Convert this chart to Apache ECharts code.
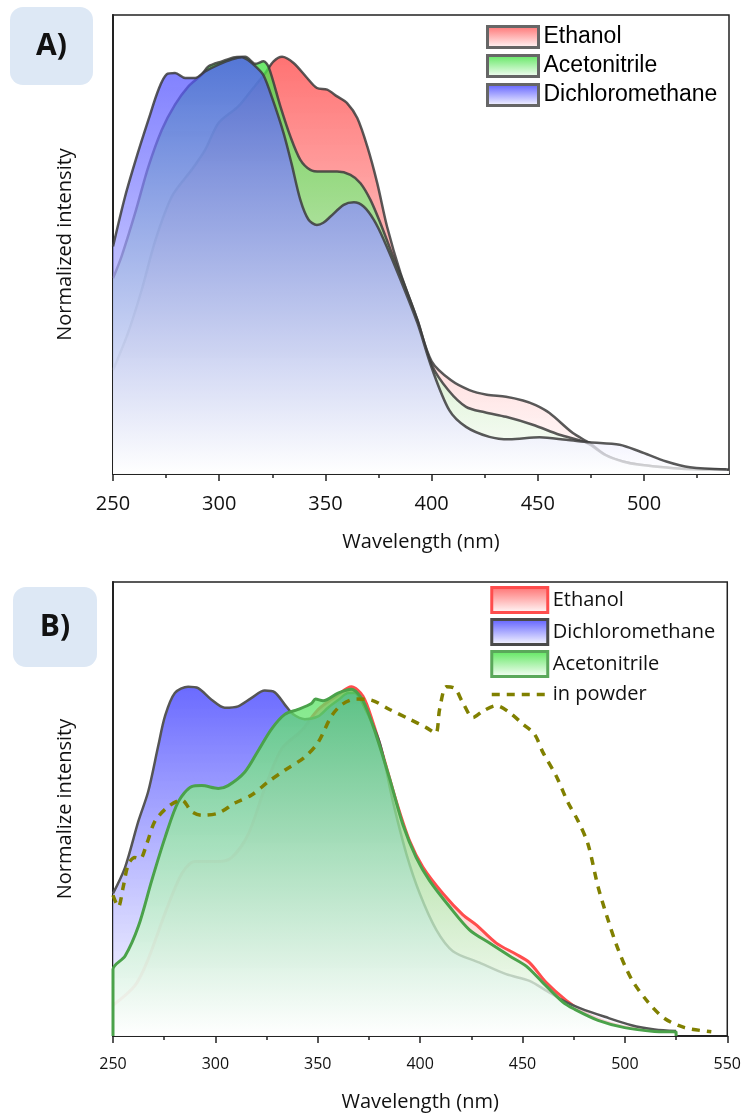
<!DOCTYPE html>
<html>
<head>
<meta charset="utf-8">
<script src="https://cdn.jsdelivr.net/npm/echarts@6/dist/echarts.min.js"></script>
<style>
  body { margin: 0; background: #fff; }
  #spec-a { width: 744px; height: 560px; }
  #spec-b { width: 744px; height: 557px; }
</style>
</head>
<body>
<div id="spec-a"></div>
<div id="spec-b"></div>
<script>
// ---- panel A : [wavelength nm, normalized intensity] ----
var aEthanol = [[250,0.249],[257,0.337],[263.5,0.441],[270,0.561],[277.7,0.665],[287,0.729],[293.4,0.777],[299.7,0.841],
  [309,0.881],[315.4,0.921],[321.7,0.961],[325.6,0.989],[329.6,1.0],[335,0.985],[341.4,0.949],[346,0.925],[350.8,0.921],
  [355.5,0.905],[360.2,0.889],[365,0.853],[369.7,0.785],[374.4,0.697],[379,0.593],[385.4,0.481],[393.3,0.369],[400,0.27],
  [409,0.225],[417.8,0.201],[426,0.19],[435,0.185],[443,0.176],[449,0.165],[455.5,0.146],[466.5,0.098],[474.4,0.074],
  [482,0.045],[490,0.03],[498,0.022],[513.7,0.014],[525,0.011],[540,0.01]];
var aAcetonitrile = [[250,0.469],[254,0.521],[260.4,0.625],[266.7,0.737],[273,0.825],[279.2,0.885],[285.5,0.929],[291.8,0.957],
  [295,0.977],[301.3,0.989],[307.5,0.999],[312.3,1.0],[317,0.983],[320.9,0.989],[323.3,0.975],[328.8,0.881],[333.5,0.809],
  [338.2,0.753],[342.9,0.729],[347.6,0.725],[355.5,0.725],[361.8,0.717],[366.5,0.697],[371.2,0.657],[375.9,0.601],[380.7,0.537],
  [386.9,0.457],[393.3,0.369],[400,0.262],[408,0.2],[416.2,0.161],[425,0.148],[435,0.137],[447.6,0.118],[460.2,0.094],
  [472.8,0.075],[482,0.045],[490,0.03],[498,0.022],[514,0.014],[525,0.011],[540,0.01]];
var aDichloromethane = [[250,0.545],[255.7,0.665],[261.2,0.761],[266.7,0.849],[271.4,0.921],[275.3,0.958],[279.2,0.961],[284,0.949],
  [288.7,0.949],[293.4,0.965],[299.7,0.981],[306,0.994],[310.7,0.999],[313.8,0.991],[317.5,0.975],[320.9,0.955],[325,0.9],
  [330.3,0.817],[334,0.745],[338.2,0.657],[342,0.61],[346,0.597],[349,0.602],[352.4,0.617],[358.6,0.645],[363.4,0.651],
  [368,0.641],[372.8,0.609],[377.5,0.561],[385.4,0.465],[393.3,0.362],[400,0.255],[408.3,0.153],[416.2,0.113],[427.2,0.089],
  [436.6,0.083],[450.8,0.088],[463.4,0.082],[474.4,0.076],[488.5,0.07],[498,0.054],[510.5,0.03],[521.6,0.016],[538.8,0.011]];
var aTicks = [250, 300, 350, 400, 450, 500];
var aMinorTicks = [275, 325, 375, 425, 475, 525];

// ---- panel B ----
var bEthanol = [[250,0.088],[260.7,0.144],[267.2,0.22],[275.4,0.351],[283.5,0.464],[290,0.5],[301.4,0.5],[307.9,0.511],
  [316,0.577],[324.1,0.709],[332.3,0.822],[342,0.874],[350.2,0.935],[359.9,0.977],[366.4,1.0],[372.1,0.973],[377,0.897],
  [381.9,0.803],[388.4,0.671],[394.9,0.558],[401.4,0.483],[411.1,0.408],[420.9,0.347],[427.4,0.318],[437.2,0.266],
  [446.9,0.234],[453.4,0.21],[461.6,0.153],[471.3,0.102],[480,0.068],[490,0.042],[500,0.026],[512,0.016],[525,0.011]];
var bDichloromethane = [[250,0.408],[255.9,0.483],[262.4,0.615],[267.2,0.7],[272.1,0.831],[275.4,0.916],[280.2,0.982],
  [286.7,1.0],[291.6,0.996],[298.1,0.963],[304.6,0.94],[311.1,0.944],[317.7,0.968],[324.1,0.989],[329,0.984],[333.9,0.949],
  [338,0.921],[343.7,0.907],[350.2,0.915],[355,0.94],[360,0.962],[365,0.982],[368,0.982],[372,0.95],[380.2,0.841],
  [386.7,0.671],[393.3,0.521],[399.8,0.408],[407.9,0.304],[416,0.243],[429,0.21],[442,0.177],[453.4,0.158],[461.6,0.13],
  [471.3,0.097],[478,0.08],[490.2,0.055],[503.2,0.031],[514.5,0.019],[525,0.014]];
var bAcetonitrile = [[250,0],[250,0.191],[255.9,0.229],[262.4,0.314],[268.9,0.445],[275.4,0.568],[281.9,0.671],[288.4,0.714],
  [293.3,0.717],[301.4,0.709],[306.2,0.717],[314.4,0.756],[320.9,0.817],[327.4,0.879],[333.9,0.921],[340.4,0.935],
  [346.9,0.952],[348.9,0.965],[352.6,0.96],[359.9,0.982],[366.4,0.993],[372.1,0.96],[378.6,0.86],[385.1,0.737],
  [391.6,0.605],[398.1,0.511],[404.6,0.445],[414.4,0.37],[424.1,0.304],[433.9,0.266],[443.7,0.229],[451.8,0.2],
  [459.9,0.153],[469.7,0.097],[475,0.078],[486.9,0.045],[499.9,0.024],[514.5,0.013],[525,0.011],[525,0]];
var bPowder = [[250,0.403],[252.6,0.37],[255,0.427],[257.5,0.492],[260.7,0.511],[263.2,0.507],[266.4,0.549],[270.5,0.615],
  [277,0.657],[283.5,0.676],[288.4,0.643],[293.3,0.632],[301.4,0.638],[309.5,0.667],[317.7,0.69],[325.8,0.728],
  [333.9,0.761],[343.7,0.799],[350.2,0.841],[356.7,0.916],[362,0.95],[368.9,0.965],[375.4,0.963],[385.1,0.935],
  [394.9,0.907],[403,0.883],[407.6,0.867],[409.5,0.935],[412.8,1.0],[416.8,0.996],[420.9,0.954],[425.8,0.912],
  [430.6,0.93],[437.2,0.946],[443.7,0.926],[450.2,0.893],[455.9,0.864],[459.9,0.813],[466.4,0.745],[472.1,0.67],
  [477.2,0.615],[482,0.549],[486.9,0.427],[491.8,0.332],[496.7,0.248],[503.2,0.163],[511.3,0.097],[519.4,0.05],
  [529.2,0.024],[542.2,0.012]];
var bTicks = [250, 300, 350, 400, 450, 500, 550];
var bMinorTicks = [275, 325, 375, 425, 475, 525];

// gradient top colour -> white at the baseline
function fade(top, bottom) {
  return new echarts.graphic.LinearGradient(0, 0, 0, 1, [
    { offset: 0, color: top },
    { offset: 1, color: bottom || 'rgba(255,255,255,0.75)' }
  ]);
}

function xAxes(max, major, minor, labelSize, labelMargin, nameGap) {
  return [
    {
      type: 'value', min: 250, max: max, position: 'bottom',
      name: 'Wavelength (nm)', nameLocation: 'middle', nameGap: nameGap,
      nameTextStyle: { fontFamily: 'Open Sans', fontSize: 20, color: '#111' },
      axisLine: { lineStyle: { color: '#222', width: 2 } },
      axisTick: { customValues: major, length: 7, lineStyle: { color: '#222', width: 1.5 } },
      axisLabel: { customValues: major, margin: labelMargin, fontFamily: 'Open Sans', fontSize: labelSize, color: '#111' },
      splitLine: { show: false }
    },
    {
      // minor ticks only
      type: 'value', min: 250, max: max, position: 'bottom',
      axisLine: { show: false },
      axisTick: { customValues: minor, length: 4, lineStyle: { color: '#222', width: 1.5 } },
      axisLabel: { show: false },
      splitLine: { show: false }
    }
  ];
}

function yAxis(max, name) {
  return {
    type: 'value', min: 0, max: max,
    name: name, nameLocation: 'middle', nameGap: 38,
    nameTextStyle: { fontFamily: 'Open Sans', fontSize: 20, color: '#111' },
    axisLine: { show: true, lineStyle: { color: '#222', width: 2 } },
    axisTick: { show: false },
    axisLabel: { show: false },
    splitLine: { show: false }
  };
}

// z grows with the order so a later fill covers earlier lines
function area(name, data, lineColor, lineWidth, fill, z) {
  return {
    name: name, type: 'line', data: data, z: z,
    smooth: 0.3, showSymbol: false, symbol: 'none',
    lineStyle: { color: lineColor, width: lineWidth },
    itemStyle: { color: lineColor },
    areaStyle: { color: fill, opacity: 1 }
  };
}

function panelLabel(text, x, y, w, h) {
  return [
    { type: 'rect', x: x, y: y, shape: { width: w, height: h, r: 13 }, style: { fill: '#dde8f5' } },
    { type: 'text', x: x + w / 2, y: y + h / 2,
      style: { text: text, font: 'bold 30px "Open Sans"', fill: '#111', align: 'center', verticalAlign: 'middle' } }
  ];
}

// ---------------- panel A ----------------
var specAOption = {
  animation: false,
  grid: { left: 113, right: 15, top: 15, bottom: 86, show: true, borderColor: '#222', borderWidth: 1.5 },
  legend: {
    orient: 'vertical', left: 486, top: 25, z: 20, padding: 0,
    itemWidth: 51, itemHeight: 21, itemGap: 5,
    textStyle: { fontFamily: 'Liberation Sans', fontSize: 23, lineHeight: 23, color: '#000' },
    data: [
      { name: 'Ethanol', icon: 'rect', itemStyle: { color: fade('rgb(255,110,110)', '#fff'), borderColor: '#666', borderWidth: 3 } },
      { name: 'Acetonitrile', icon: 'rect', itemStyle: { color: fade('rgb(90,230,90)', '#fff'), borderColor: '#666', borderWidth: 3 } },
      { name: 'Dichloromethane', icon: 'rect', itemStyle: { color: fade('rgb(90,90,255)', '#fff'), borderColor: '#666', borderWidth: 3 } }
    ]
  },
  graphic: panelLabel('A)', 10, 7, 83, 78),
  xAxis: xAxes(540, aTicks, aMinorTicks, 20, 20, 58),
  yAxis: yAxis(1.1, 'Normalized intensity'),
  series: [
    area('Ethanol', aEthanol, 'rgba(60,60,60,0.85)', 2.5, fade('rgba(255,90,90,0.85)'), 2),
    area('Acetonitrile', aAcetonitrile, 'rgba(60,60,60,0.85)', 2.5, fade('rgba(70,225,70,0.8)'), 3),
    area('Dichloromethane', aDichloromethane, 'rgba(60,60,60,0.85)', 2.5, fade('rgba(75,75,255,0.72)'), 4)
  ]
};

var specAChart = echarts.init(document.getElementById('spec-a'), null, { renderer: 'canvas' });
specAChart.setOption(specAOption);

// ---------------- panel B ----------------
var powderSeries = {
  name: 'in powder', type: 'line', data: bPowder, z: 6,
  smooth: 0.3, showSymbol: false, symbol: 'none',
  lineStyle: { color: '#808000', width: 3.5, type: [8, 7] },
  itemStyle: { color: '#808000' }
};

var specBOption = {
  animation: false,
  grid: { left: 113, right: 15, top: 22, bottom: 76, show: true, borderColor: '#222', borderWidth: 1.5 },
  legend: {
    orient: 'vertical', left: 490, top: 26, z: 20, padding: 0,
    itemWidth: 56, itemHeight: 25, itemGap: 4,
    textStyle: { fontFamily: 'Open Sans', fontSize: 20, lineHeight: 25, color: '#111' },
    data: [
      { name: 'Ethanol', icon: 'rect', itemStyle: { color: fade('rgb(255,110,110)', '#fff'), borderColor: '#ff4d4d', borderWidth: 3 } },
      { name: 'Dichloromethane', icon: 'rect', itemStyle: { color: fade('rgb(90,90,255)', '#fff'), borderColor: '#4a4a4a', borderWidth: 3 } },
      { name: 'Acetonitrile', icon: 'rect', itemStyle: { color: fade('rgb(90,230,90)', '#fff'), borderColor: '#5aa85a', borderWidth: 3 } },
      { name: 'in powder', itemStyle: { opacity: 0 }, lineStyle: { width: 3.5 } }
    ]
  },
  graphic: panelLabel('B)', 13, 27, 84, 80),
  xAxis: xAxes(550, bTicks, bMinorTicks, 16, 20, 56),
  yAxis: yAxis(1.3, 'Normalize intensity'),
  series: [
    area('Ethanol', bEthanol, '#ff4d4d', 3, fade('rgba(255,110,110,0.8)'), 2),
    area('Dichloromethane', bDichloromethane, '#555', 2.5, fade('rgba(90,90,255,0.9)'), 3),
    area('Acetonitrile', bAcetonitrile, '#4aa24a', 3, fade('rgba(85,225,95,0.75)'), 4),
    powderSeries
  ]
};

var specBChart = echarts.init(document.getElementById('spec-b'), null, { renderer: 'canvas' });
specBChart.setOption(specBOption);
</script>
</body>
</html>
